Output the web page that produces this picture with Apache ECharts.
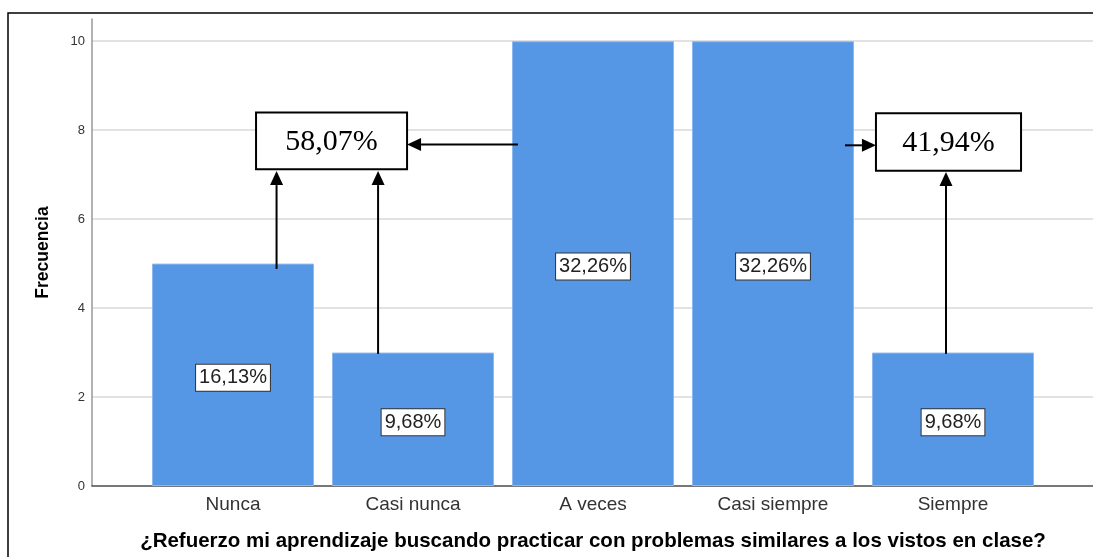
<!DOCTYPE html>
<html><head><meta charset="utf-8">
<script src="https://cdn.jsdelivr.net/npm/echarts@6/dist/echarts.min.js"></script>
<style>html,body{margin:0;padding:0;background:#fff}#c{width:1093px;height:557px}</style>
</head><body><div id="c"></div>
<script>
const categories = ['Nunca', 'Casi nunca', 'A veces', 'Casi siempre', 'Siempre'];
const frequencies = [5, 3, 10, 10, 3];
const percentLabels = ['16,13%', '9,68%', '32,26%', '32,26%', '9,68%'];
const yTicks = [0, 2, 4, 6, 8, 10];
const groupLabels = ['58,07%', '41,94%'];
const yTitle = 'Frecuencia';
const xTitle = '¿Refuerzo mi aprendizaje buscando practicar con problemas similares a los vistos en clase?';

// annotation layout (in data units: x = category index, y = frequency)
const annoBoxes = [
  { label: 0, x0: 0.128, x1: 0.967, y0: 7.12, y1: 8.40 },
  { label: 1, x0: 3.572, x1: 4.378, y0: 7.09, y1: 8.38 }
];
const annoArrows = [
  { from: [0.242, 4.88], to: [0.242, 7.08] },
  { from: [0.806, 2.97], to: [0.806, 7.08] },
  { from: [3.961, 2.97], to: [3.961, 7.06] },
  { from: [1.583, 7.68], to: [0.967, 7.68] },
  { from: [3.40, 7.66], to: [3.572, 7.66] }
];

const yMax = 10.5;
const chart = echarts.init(document.getElementById('c'), null, { renderer: 'canvas' });
const font = '"Liberation Sans", Arial, sans-serif';

chart.setOption({
  animation: false,
  backgroundColor: '#fff',
  grid: [
    { left: 92, right: 0, top: 19, bottom: 71 },
    { left: 143, right: 50, top: 19, bottom: 71 }
  ],
  xAxis: [
    { type: 'value', gridIndex: 0, min: 0, max: 1, axisLine: { show: true, lineStyle: { color: '#555', width: 1.5 } },
      axisTick: { show: false }, axisLabel: { show: false }, splitLine: { show: false } },
    { type: 'category', gridIndex: 1, data: categories, axisLine: { show: false }, axisTick: { show: false },
      axisLabel: { fontFamily: font, fontSize: 19, color: '#333', margin: 9 },
      name: xTitle, nameLocation: 'middle', nameGap: 45,
      nameTextStyle: { fontFamily: font, fontSize: 20.5, fontWeight: 'bold', color: '#000' } },
    { type: 'value', gridIndex: 1, min: -0.5, max: 4.5, show: false }
  ],
  yAxis: [
    { type: 'value', gridIndex: 0, min: 0, max: yMax, interval: 2,
      axisLine: { show: true, lineStyle: { color: '#999', width: 1.5 } }, axisTick: { show: false },
      axisLabel: { fontFamily: font, fontSize: 13, color: '#333', margin: 7, showMaxLabel: false,
        formatter: v => yTicks.includes(v) ? String(v) : '' },
      splitLine: { show: true, showMaxLine: false, lineStyle: { color: '#d9d9d9', width: 1.5 } },
      name: yTitle, nameLocation: 'middle', nameGap: 40,
      nameTextStyle: { fontFamily: font, fontSize: 17.5, fontWeight: 'bold', color: '#000' } },
    { type: 'value', gridIndex: 1, min: 0, max: yMax, show: false }
  ],
  series: [{
    type: 'bar', xAxisIndex: 1, yAxisIndex: 1, data: frequencies, barWidth: '90%',
    itemStyle: { color: '#5596e5', borderColor: '#8cb8ef', borderWidth: 1 },
    label: { show: true, position: 'inside', offset: [0, 3], formatter: p => percentLabels[p.dataIndex],
      fontFamily: font, fontSize: 20, color: '#222', backgroundColor: '#fff',
      borderColor: '#333', borderWidth: 1, padding: [4, 3, 2, 3] },
    z: 2
  }]
});

function px(pt) { return chart.convertToPixel({ xAxisIndex: 2, yAxisIndex: 1 }, pt); }
const g = [];
g.push({ type: 'polyline', shape: { points: [[8, 557], [8, 13], [1093, 13]] }, style: { stroke: '#000', lineWidth: 1.5, fill: null }, z: 100 });
annoBoxes.forEach(b => {
  const a = px([b.x0, b.y1]), c = px([b.x1, b.y0]);
  g.push({ type: 'rect', shape: { x: a[0], y: a[1], width: c[0] - a[0], height: c[1] - a[1] },
    style: { fill: '#fff', stroke: '#000', lineWidth: 2 }, z: 100 });
  g.push({ type: 'text', style: { text: groupLabels[b.label], x: (a[0] + c[0]) / 2, y: (a[1] + c[1]) / 2 + 1,
    font: '30px "Liberation Serif", "Times New Roman", serif', fill: '#000', align: 'center', verticalAlign: 'middle' }, z: 101 });
});
annoArrows.forEach(ar => {
  const s = px(ar.from), t = px(ar.to);
  const dx = t[0] - s[0], dy = t[1] - s[1], L = Math.hypot(dx, dy);
  const ux = dx / L, uy = dy / L, hl = 14, hw = 6.5;
  const bx = t[0] - ux * hl, by = t[1] - uy * hl;
  g.push({ type: 'line', shape: { x1: s[0], y1: s[1], x2: bx, y2: by }, style: { stroke: '#000', lineWidth: 2 }, z: 100 });
  g.push({ type: 'polygon', shape: { points: [[t[0], t[1]], [bx - uy * hw, by + ux * hw], [bx + uy * hw, by - ux * hw]] },
    style: { fill: '#000' }, z: 100 });
});
chart.setOption({ graphic: g });
</script>
</body></html>
